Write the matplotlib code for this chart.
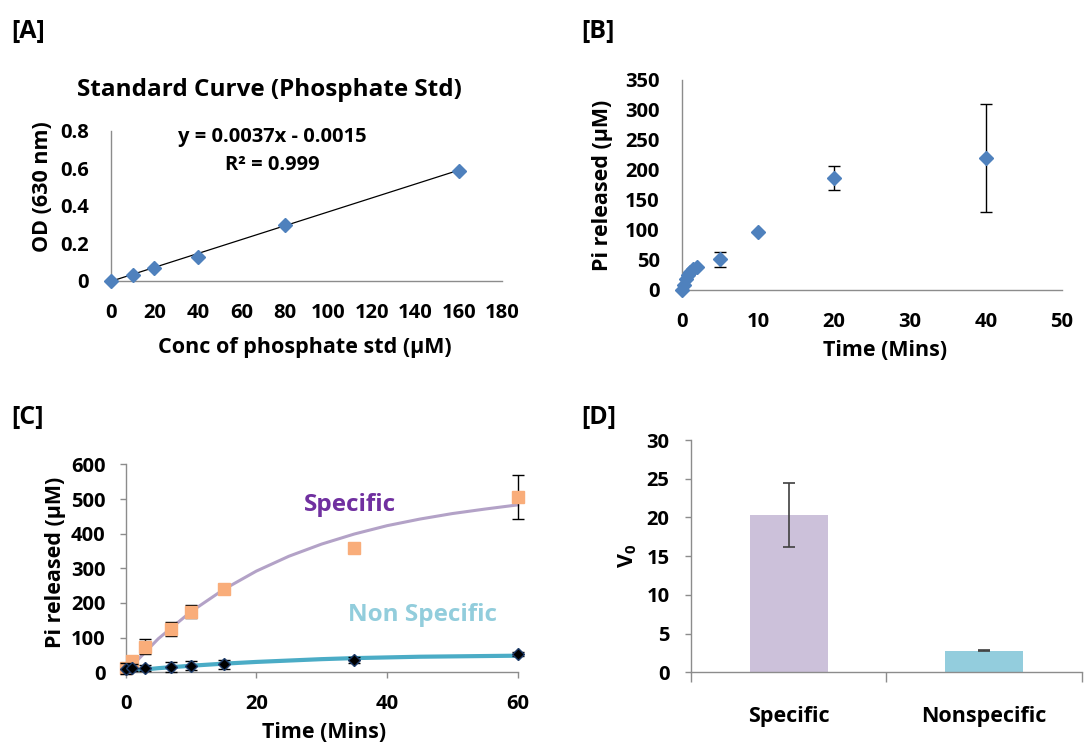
import matplotlib
matplotlib.use("Agg")
import matplotlib.pyplot as plt
import numpy as np

plt.rcParams["font.family"] = ["Open Sans", "DejaVu Sans"]
plt.rcParams["font.weight"] = "bold"
plt.rcParams["mathtext.fontset"] = "custom"
plt.rcParams["mathtext.rm"] = "Open Sans:bold"
plt.rcParams["mathtext.bf"] = "Open Sans:bold"
plt.rcParams["mathtext.it"] = "Open Sans:bold"

# ---- panel A: phosphate standard curve
std_conc = [0, 10, 20, 40, 80, 160]
std_od = [0.0, 0.033, 0.068, 0.13, 0.299, 0.587]
fit_slope = 0.0037
fit_icpt = -0.0015

# ---- panel B: Pi released over time
b_time = [0, 0.25, 0.5, 0.75, 1, 1.5, 2, 5, 10, 20, 40]
b_pi = [0, 8, 18, 25, 30, 35, 39, 51, 97, 187, 220]
b_err = [0, 0, 0, 0, 0, 0, 0, 13, 0, 20, 90]

# ---- panel C: specific vs non specific
c_time = [0, 1, 3, 7, 10, 15, 35, 60]
spec_pi = [12, 33, 74, 125, 175, 240, 360, 505]
spec_err = [6, 14, 22, 20, 18, 0, 0, 64]
nons_pi = [11, 13, 13, 16, 19, 23, 35, 52]
nons_err = [15, 10, 8, 14, 13, 14, 8, 6]
curve_time = [0, 5, 10, 15, 20, 25, 30, 35, 40, 45, 50, 55, 60]
spec_curve = [0, 97, 175, 239, 292, 335, 370, 399, 423, 442, 458, 471, 483]
nons_curve = [3, 12, 19, 25, 30, 34, 38, 41, 43, 45, 46, 47, 48]

# ---- panel D: initial velocity
d_labels = ["Specific", "Nonspecific"]
d_v0 = [20.3, 2.8]
d_err = [4.1, 0.05]

GRAY = "#8c8c8c"
BLUE = "#4f81bd"
TICK_FS = 14.5
LAB_FS = 15.5


def style_axes(ax, ticklen=0):
    for s in ["top", "right"]:
        ax.spines[s].set_visible(False)
    for s in ["left", "bottom"]:
        ax.spines[s].set_color(GRAY)
        ax.spines[s].set_linewidth(1)
    ax.tick_params(length=ticklen, color=GRAY, width=1, labelsize=TICK_FS)


def place_labels(ax, xl, yl, xpos, ypos):
    # put axis labels where the original chart has them (axes fractions)
    ax.set_xlabel(xl, fontsize=LAB_FS, fontweight="bold", va="center")
    ax.set_ylabel(yl, fontsize=LAB_FS, fontweight="bold", va="center")
    ax.xaxis.set_label_coords(*xpos)
    ax.yaxis.set_label_coords(*ypos)


fig = plt.figure(figsize=(10.85, 7.42), dpi=100)

# A
ax = fig.add_axes([0.1023, 0.6213, 0.3604, 0.2022])
style_axes(ax)
xs = np.array([0, 160])
ax.plot(xs, fit_slope * xs + fit_icpt, color="black", lw=0.9, zorder=2)
ax.plot(std_conc, std_od, ls="none", marker="D", ms=7.5, color=BLUE, clip_on=False, zorder=3)
ax.set_xlim(0, 180)
ax.set_ylim(0, 0.8)
ax.set_xticks(range(0, 181, 20))
ax.set_yticks([0, 0.2, 0.4, 0.6, 0.8])
ax.set_yticklabels(["%g" % v for v in [0, 0.2, 0.4, 0.6, 0.8]])
ax.tick_params(axis="x", pad=16)
ax.tick_params(axis="y", pad=16)
ax.text(0.404, 1.273, "Standard Curve (Phosphate Std)", transform=ax.transAxes,
        ha="center", va="center", fontsize=17.5, fontweight="bold")
place_labels(ax, "Conc of phosphate std (μM)", "OD (630 nm)", (0.496, -0.44), (-0.174, 0.627))
ax.text(0.412, 0.96, "y = 0.0037x - 0.0015", transform=ax.transAxes, ha="center",
        va="center", fontsize=TICK_FS, fontweight="bold")
ax.text(0.412, 0.773, "R² = 0.999", transform=ax.transAxes, ha="center",
        va="center", fontsize=TICK_FS, fontweight="bold")

# B
ax = fig.add_axes([0.6286, 0.6092, 0.3502, 0.2830])
style_axes(ax)
ax.errorbar(b_time, b_pi, yerr=b_err, ls="none", marker="D", ms=7.5, color=BLUE,
            ecolor="black", elinewidth=1, capsize=4, capthick=1, clip_on=False, zorder=3)
ax.set_xlim(0, 50)
ax.set_ylim(0, 350)
ax.set_xticks(range(0, 51, 10))
ax.set_yticks(range(0, 351, 50))
ax.tick_params(axis="x", pad=16)
ax.tick_params(axis="y", pad=16)
place_labels(ax, "Time (Mins)", "Pi released (μM)", (0.534, -0.286), (-0.208, 0.5))

# C
ax = fig.add_axes([0.1158, 0.0939, 0.3613, 0.2803])
style_axes(ax, ticklen=4.5)
ax.plot(curve_time, spec_curve, color="#b3a2c7", lw=2.2, zorder=2, clip_on=False)
ax.plot(curve_time, nons_curve, color="#4bacc6", lw=3, zorder=2, clip_on=False)
ax.errorbar(c_time, spec_pi, yerr=spec_err, ls="none", marker="s", ms=8, color="#f9ad7a",
            ecolor="black", elinewidth=1, capsize=4, capthick=1, clip_on=False, zorder=3)
ax.errorbar(c_time, nons_pi, yerr=nons_err, ls="none", marker="D", ms=6.5, mfc="black",
            mec="#1f3d6b", ecolor="black", elinewidth=1, capsize=4, capthick=1,
            clip_on=False, zorder=4)
ax.set_xlim(0, 60)
ax.set_ylim(0, 600)
ax.set_xticks([0, 20, 40, 60])
ax.set_yticks(range(0, 601, 100))
ax.tick_params(axis="x", pad=11)
ax.tick_params(axis="y", pad=10)
place_labels(ax, "Time (Mins)", "Pi released (μM)", (0.506, -0.287), (-0.180, 0.53))
ax.text(34.3, 483, "Specific", color="#7030a0", fontsize=17.5, fontweight="bold",
        ha="center", va="center")
ax.text(45.4, 165, "Non Specific", color="#92cddc", fontsize=17.5, fontweight="bold",
        ha="center", va="center")

# D
ax = fig.add_axes([0.6369, 0.0939, 0.3601, 0.3131])
style_axes(ax, ticklen=4.5)
xpos = np.arange(len(d_labels))
ax.bar(xpos, d_v0, width=0.4, color=["#ccc1da", "#93cddd"], zorder=2)
ax.errorbar(xpos, d_v0, yerr=d_err, ls="none", ecolor="#404040", elinewidth=1.2,
            capsize=4, capthick=1.2, zorder=3)
ax.set_xlim(-0.5, 1.5)
ax.set_ylim(0, 30)
ax.set_yticks(range(0, 31, 5))
ax.tick_params(axis="y", pad=11)
ax.set_xticks([-0.5, 0.5, 1.5])
ax.set_xticklabels([])
ax.set_xticks(xpos, minor=True)
ax.set_xticklabels(d_labels, minor=True)
ax.tick_params(axis="x", which="minor", length=0, labelsize=15.5, pad=24)
ax.tick_params(axis="x", which="major", length=7)
ax.set_ylabel("$\\mathbf{V_0}$", fontsize=LAB_FS, fontweight="bold", va="center")
ax.yaxis.set_label_coords(-0.161, 0.5)

# panel letters
for lbl, x, y in [("[A]", 0.010, 0.958), ("[B]", 0.536, 0.958),
                  ("[C]", 0.010, 0.437), ("[D]", 0.536, 0.437)]:
    fig.text(x, y, lbl, fontsize=18, fontweight="bold", va="center")

fig.savefig("out.png", dpi=100)
